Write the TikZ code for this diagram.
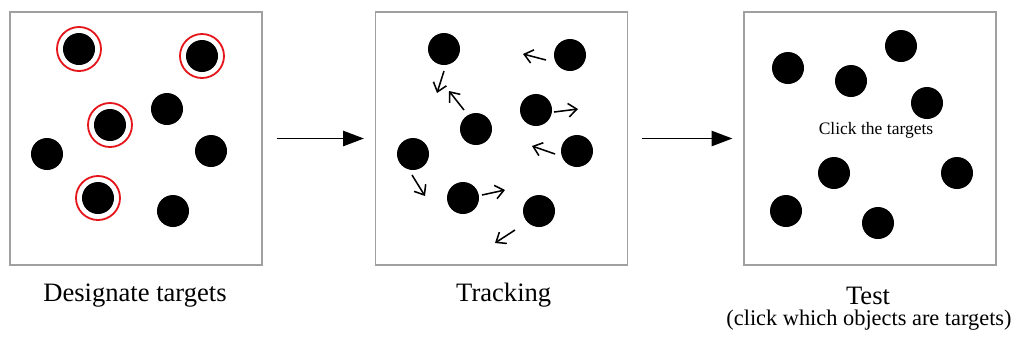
\documentclass[tikz,border=0pt]{standalone}
\usepackage{fontspec}
\setmainfont{Liberation Serif}
\usetikzlibrary{arrows.meta}
\definecolor{framegray}{HTML}{A0A0A0}
\definecolor{ringred}{HTML}{E5161B}

\begin{document}
\begin{tikzpicture}[
  x=0.025cm, y=-0.025cm,
  panel/.style={draw=framegray, line width=0.8pt, minimum width=6.3cm, minimum height=6.325cm, inner sep=0pt},
  dot/.style={circle, fill=black, minimum size=0.8cm, inner sep=0pt},
  ring/.style={circle, draw=ringred, line width=1.3pt, minimum size=1.1cm, inner sep=0pt},
  flow/.style={-{Triangle[length=5.2mm, width=3.8mm]}, line width=1.4pt, shorten <=0.35cm, shorten >=0.275cm},
  move/.style={-{Straight Barb[length=2.1mm, width=3.4mm]}, line width=1.1pt},
  caption/.style={font=\fontsize{18.9}{22}\selectfont, anchor=base, inner sep=0pt},
  note/.style={font=\fontsize{15.9}{19}\selectfont, anchor=base, inner sep=0pt}
]
\useasboundingbox (0,0) rectangle (1014,338);

% the three panels
\node[panel] (p1) at (136,138.5) {};
\node[panel] (p2) at (501.5,138.5) {};
\node[panel] (p3) at (870,138.5) {};
\draw[flow] (p1) -- (p2);
\draw[flow] (p2) -- (p3);

% designate targets
\foreach \n/\x/\y in {1/79/49, 2/202/56, 3/110/125, 4/98/198} {
  \node[dot] (t\n) at (\x,\y) {};
  \node[ring] (r\n) at (\x,\y) {};
}
\foreach \n/\x/\y in {1/167/109, 2/47/154, 3/211/151, 4/173/211}
  \node[dot] (d\n) at (\x,\y) {};

% tracking
\foreach \n/\x/\y in {1/444/49, 2/570/55, 3/536/110, 4/476/129, 5/413/154, 6/577/151, 7/463/198, 8/539/211}
  \node[dot] (m\n) at (\x,\y) {};
\foreach \a/\b/\c/\d in {444/71/437/93, 464/110/449/91, 546/60/523/54, 554/112/578/109,
                         555/154/532/146, 412/175/425/196, 482/195/505/190, 515/230/495/243}
  \draw[move] (\a,\b) -- (\c,\d);

% test
\foreach \n/\x/\y in {1/788/68, 2/901/46, 3/851/81, 4/927/103, 5/834/173, 6/957/173, 7/786/211, 8/878/223}
  \node[dot] (q\n) at (\x,\y) {};
\node[anchor=base, inner sep=0pt, font=\fontsize{12.45}{15}\selectfont] (click) at (876,134.5) {Click the targets};

% captions
\node[caption] (lab1) at (135,301.7) {Designate targets};
\node[caption] (lab2) at (503.7,301.7) {Tracking};
\node[caption] (lab3) at (868,304.5) {Test};
\node[note] (lab4) at (869,325) {(click which objects are targets)};
\end{tikzpicture}
\end{document}
